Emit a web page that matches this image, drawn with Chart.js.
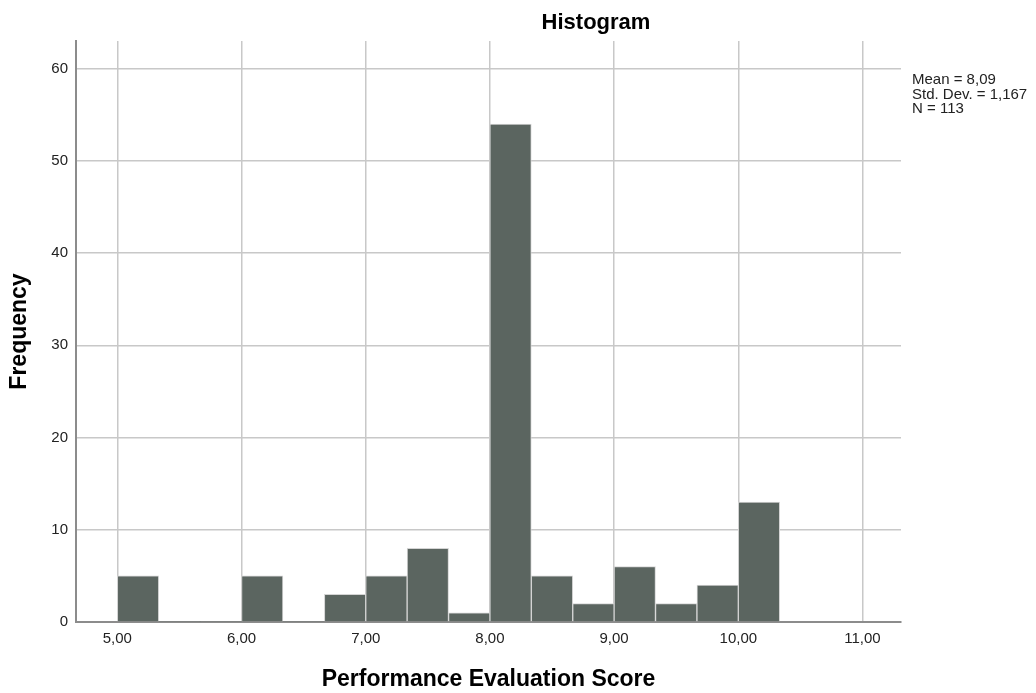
<!DOCTYPE html>
<html lang="en">
<head>
    <meta charset="UTF-8">
    <title>Histogram - Performance Evaluation Score</title>
    <script src="https://cdn.jsdelivr.net/npm/chart.js"></script>
    <style>
        body {
            margin: 0;
            padding: 0;
            background-color: white;
        }
        .chart-container {
            width: 1036px;
            height: 693px;
        }
    </style>
</head>
<body>
    <div class="chart-container">
        <canvas id="histChart" width="1036" height="693"></canvas>
    </div>

    <script>
        // bin edges (width 1/3) and frequency per bin
        const binEdges = [5.000, 5.333, 5.667, 6.000, 6.333, 6.667, 7.000, 7.333, 7.667,
                          8.000, 8.333, 8.667, 9.000, 9.333, 9.667, 10.000, 10.333];
        const frequencies = [5, 0, 0, 5, 0, 3, 5, 8, 1, 54, 5, 2, 6, 2, 4, 13];

        const xTickValues = [5, 6, 7, 8, 9, 10, 11];
        const yTickValues = [0, 10, 20, 30, 40, 50, 60];

        const chartTitle = "Histogram";
        const xTitle = "Performance Evaluation Score";
        const yTitle = "Frequency";
        const statsLines = ["Mean = 8,09", "Std. Dev. = 1,167", "N = 113"];

        const barData = frequencies.map((f, i) => ({
            x: (binEdges[i] + binEdges[i + 1]) / 2,
            y: f
        }));

        const fontFamily = "'Liberation Sans', Arial, sans-serif";

        const textPlugin = {
            id: "spssText",
            afterDraw(chart) {
                const ctx = chart.ctx;
                ctx.save();
                ctx.fillStyle = "#000";
                ctx.textAlign = "center";
                ctx.textBaseline = "middle";
                ctx.font = "bold 22px " + fontFamily;
                ctx.fillText(chartTitle, 596, 23);

                ctx.textAlign = "left";
                ctx.font = "15px " + fontFamily;
                ctx.fillStyle = "#222";
                statsLines.forEach((line, i) => {
                    ctx.fillText(line, 912, 80 + i * 14.5);
                });
                ctx.restore();
            }
        };

        new Chart(document.getElementById("histChart"), {
            type: "bar",
            data: {
                datasets: [{
                    label: "Frequency",
                    data: barData,
                    backgroundColor: "#5b6560",
                    borderColor: "#d4d4d4",
                    borderWidth: c => (c.raw && c.raw.y > 0 ? 1 : 0),
                    barPercentage: 1,
                    categoryPercentage: 1
                }]
            },
            options: {
                responsive: false,
                animation: false,
                layout: {
                    padding: { top: 41, right: 135, left: 0, bottom: 0 }
                },
                plugins: {
                    legend: { display: false },
                    tooltip: { enabled: false }
                },
                scales: {
                    x: {
                        type: "linear",
                        min: 4.667,
                        max: 11.31,
                        offset: false,
                        afterBuildTicks: s => { s.ticks = xTickValues.map(v => ({ value: v })); },
                        afterFit: s => { s.height = 71; },
                        grid: { offset: false, color: "#c8c8c8", lineWidth: 1.5, drawTicks: false },
                        border: { color: "#8c8c8c", width: 2 },
                        ticks: {
                            padding: 8,
                            color: "#222",
                            font: { family: fontFamily, size: 15 },
                            callback: v => v.toFixed(2).replace(".", ",")
                        },
                        title: {
                            display: true,
                            text: xTitle,
                            color: "#000",
                            font: { family: fontFamily, size: 23, weight: "bold" },
                            padding: { top: 0, bottom: 0 }
                        }
                    },
                    y: {
                        min: 0,
                        max: 63,
                        afterBuildTicks: s => { s.ticks = yTickValues.map(v => ({ value: v })); },
                        afterFit: s => { s.width = 76; },
                        grid: { color: "#c8c8c8", lineWidth: 1.5, drawTicks: false },
                        border: { color: "#8c8c8c", width: 2 },
                        ticks: {
                            padding: 8,
                            color: "#222",
                            font: { family: fontFamily, size: 15 }
                        },
                        title: {
                            display: true,
                            text: yTitle,
                            color: "#000",
                            font: { family: fontFamily, size: 23, weight: "bold" },
                            padding: { top: 6, bottom: 0 }
                        }
                    }
                }
            },
            plugins: [textPlugin]
        });
    </script>
</body>
</html>
